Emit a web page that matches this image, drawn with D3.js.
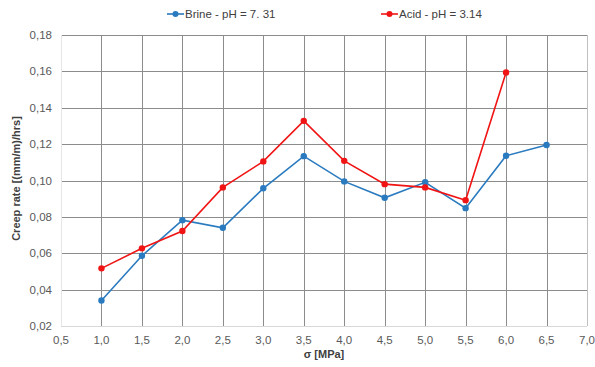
<!DOCTYPE html>
<html>
<head>
<meta charset="utf-8">
<script src="https://cdn.jsdelivr.net/npm/d3@7"></script>
<style>
  body { margin: 0; background: white; }
  svg { font-family: "Liberation Sans", Arial, sans-serif; }
</style>
</head>
<body>
<svg id="chart"></svg>
<script>
// x values (stress, MPa)
const stress = [1.0, 1.5, 2.0, 2.5, 3.0, 3.5, 4.0, 4.5, 5.0, 5.5, 6.0, 6.5];
// creep rate per series
const brine = [0.034, 0.0586, 0.0782, 0.074, 0.0957, 0.1134, 0.0995, 0.0905, 0.099, 0.0848, 0.1136, 0.1195];
const acid = [0.0517, 0.0627, 0.0722, 0.0962, 0.1105, 0.1328, 0.1108, 0.098, 0.0962, 0.0892, 0.1594];
const seriesNames = ["Brine - pH = 7. 31", "Acid - pH = 3.14"];
const seriesColors = ["#2a7abf", "#f01414"];
const xTicks = d3.range(0.5, 7.01, 0.5);
const yTicks = d3.range(0.02, 0.181, 0.02);

const width = 595, height = 367;
const margin = { top: 35, right: 8, bottom: 41, left: 61 };
const innerW = width - margin.left - margin.right;
const innerH = height - margin.top - margin.bottom;

const svg = d3.select("#chart").attr("width", width).attr("height", height);
const g = svg.append("g").attr("transform", `translate(${margin.left},${margin.top})`);

const x = d3.scaleLinear().domain([0.5, 7.0]).range([0, 526]);
const y = d3.scaleLinear().domain([0.02, 0.18]).range([innerH, 0]);

const fmt = d => d3.format(".2f")(d).replace(".", ",");
const fmtX = d => d3.format(".1f")(d).replace(".", ",");

// horizontal grid
g.append("g")
    .selectAll("line")
    .data(yTicks)
    .enter()
    .append("line")
    .attr("x1", 0).attr("x2", x(7.0))
    .attr("y1", d => Math.round(y(d)) + 0.5).attr("y2", d => Math.round(y(d)) + 0.5)
    .style("stroke", (d, i) => i === 0 ? "#d9d9d9" : "#8c8c8c")
    .style("stroke-width", 1);

// vertical grid
g.append("g")
    .selectAll("line")
    .data(xTicks)
    .enter()
    .append("line")
    .attr("x1", d => Math.round(x(d)) + 0.5).attr("x2", d => Math.round(x(d)) + 0.5)
    .attr("y1", 0).attr("y2", innerH)
    .style("stroke", (d, i) => i === 0 ? "#e6e6e6" : (i === xTicks.length - 1 ? "#c0c0c0" : "#8c8c8c"))
    .style("stroke-width", 1);

// y tick labels
g.append("g")
    .selectAll("text")
    .data(yTicks)
    .enter()
    .append("text")
    .attr("x", -9)
    .attr("y", d => y(d))
    .attr("dy", "0.35em")
    .attr("text-anchor", "end")
    .style("font-size", "11.5px")
    .style("fill", "#595959")
    .text(fmt);

// x tick labels
g.append("g")
    .selectAll("text")
    .data(xTicks)
    .enter()
    .append("text")
    .attr("x", d => x(d))
    .attr("y", innerH + 18)
    .attr("text-anchor", "middle")
    .style("font-size", "11.5px")
    .style("fill", "#595959")
    .text(fmtX);

// axis titles
g.append("text")
    .attr("x", x(3.75))
    .attr("y", innerH + 32)
    .attr("text-anchor", "middle")
    .style("font-size", "11px")
    .style("font-weight", "bold")
    .style("fill", "#404040")
    .text("σ [MPa]");

g.append("text")
    .attr("transform", "rotate(-90)")
    .attr("x", -innerH / 2 + 2)
    .attr("y", -41)
    .attr("text-anchor", "middle")
    .style("font-size", "11px")
    .style("font-weight", "bold")
    .style("fill", "#404040")
    .text("Creep rate [(mm/m)/hrs]");

// series
const series = [brine, acid];
const line = d3.line()
    .x(d => x(d[0]))
    .y(d => y(d[1]));

series.forEach((vals, i) => {
    const pts = vals.map((v, j) => [stress[j], v]);
    g.append("path")
        .datum(pts)
        .attr("d", line)
        .style("fill", "none")
        .style("stroke", seriesColors[i])
        .style("stroke-width", 1.6);
    g.selectAll(null)
        .data(pts)
        .enter()
        .append("circle")
        .attr("cx", d => x(d[0]))
        .attr("cy", d => y(d[1]))
        .attr("r", 3.2)
        .style("fill", seriesColors[i]);
});

// legend
const legendX = [167, 381];
seriesNames.forEach((name, i) => {
    const lg = svg.append("g").attr("transform", `translate(${legendX[i]},14)`);
    lg.append("line")
        .attr("x1", 0).attr("x2", 17)
        .attr("y1", 0).attr("y2", 0)
        .style("stroke", seriesColors[i])
        .style("stroke-width", 1.6);
    lg.append("circle")
        .attr("cx", 8.5).attr("cy", 0).attr("r", 3)
        .style("fill", seriesColors[i]);
    lg.append("text")
        .attr("x", 18)
        .attr("y", 0)
        .attr("dy", "0.35em")
        .style("font-size", "11.5px")
        .style("fill", "#404040")
        .text(name);
});
</script>
</body>
</html>
